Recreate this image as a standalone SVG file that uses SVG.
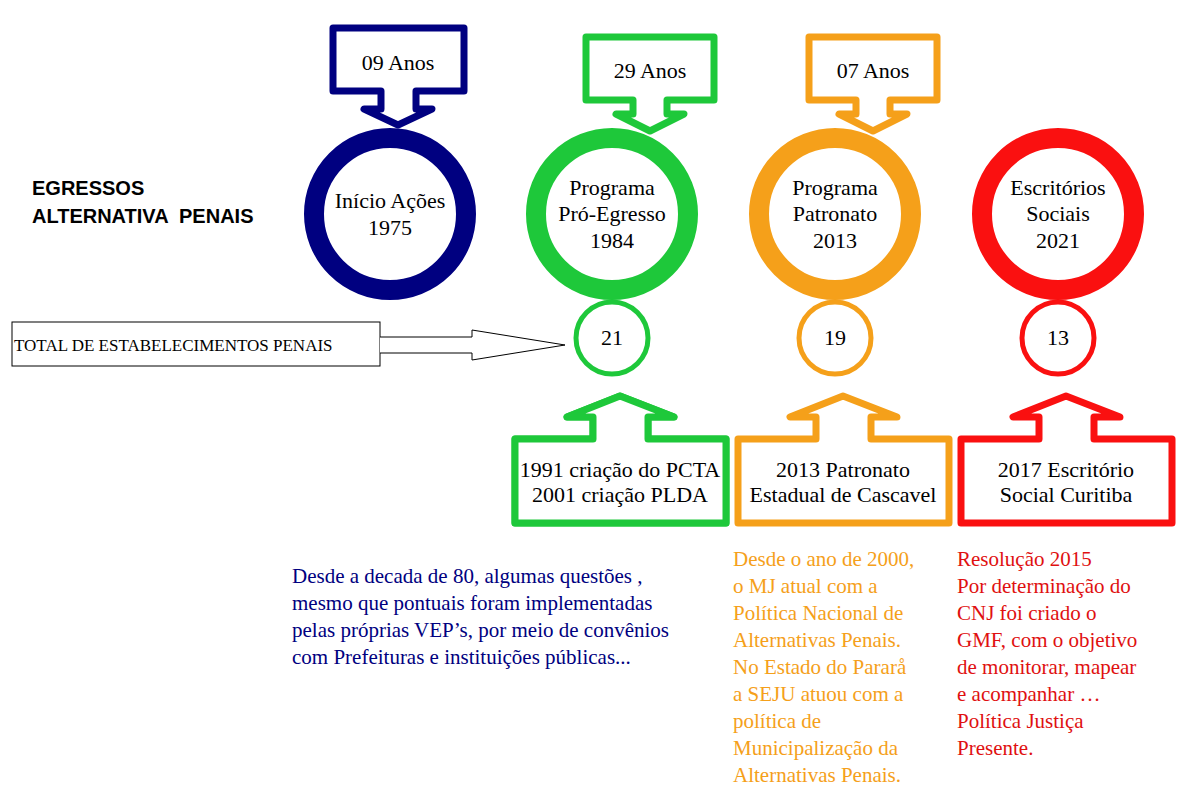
<svg xmlns="http://www.w3.org/2000/svg" width="1191" height="790" viewBox="0 0 1191 790">
<style>
.t{font-family:"Liberation Serif",serif;font-size:22px;text-anchor:middle;fill:#000}
.co{fill:#fff;stroke-width:7;stroke-linejoin:round}
.ring{fill:#fff;stroke-width:20}
.sm{fill:#fff;stroke-width:5}
.p{font-family:"Liberation Serif",serif;font-size:21px}
</style>
<rect width="1191" height="790" fill="#fff"/>
<g id="title"><text x="32" y="195" font-family="Liberation Sans,sans-serif" font-weight="bold" font-size="20">EGRESSOS</text><text x="32" y="223" font-family="Liberation Sans,sans-serif" font-weight="bold" font-size="20" xml:space="preserve">ALTERNATIVA  PENAIS</text></g>
<g id="n1975"><circle class="ring" cx="390" cy="214" r="76" stroke="#000080"/><text class="t" x="390" y="208">Início Ações</text><text class="t" x="390" y="235">1975</text></g>
<g id="n1984"><circle class="ring" cx="612" cy="214" r="76" stroke="#1ec83a"/><text class="t" x="612" y="195">Programa</text><text class="t" x="612" y="221">Pró-Egresso</text><text class="t" x="612" y="248">1984</text></g>
<g id="n2013"><circle class="ring" cx="835" cy="214" r="76" stroke="#f5a01a"/><text class="t" x="835" y="195">Programa</text><text class="t" x="835" y="221">Patronato</text><text class="t" x="835" y="248">2013</text></g>
<g id="n2021"><circle class="ring" cx="1058" cy="214" r="76" stroke="#fa1010"/><text class="t" x="1058" y="195">Escritórios</text><text class="t" x="1058" y="221">Sociais</text><text class="t" x="1058" y="248">2021</text></g>
<g id="a09"><path class="co" stroke="#000080" d="M333,28H464V91H416V109H432L398,125L364,109H381V91H333Z"/><text class="t" x="398" y="70">09 Anos</text></g>
<g id="a29"><path class="co" stroke="#1ec83a" d="M586,37H714V100H667V114H684L650,131L616,114H633V100H586Z"/><text class="t" x="650" y="78">29 Anos</text></g>
<g id="a07"><path class="co" stroke="#f5a01a" d="M809,37H937V100H890V114H907L873,131L839,114H856V100H809Z"/><text class="t" x="873" y="78">07 Anos</text></g>
<g id="c21"><circle class="sm" cx="612" cy="338" r="36" stroke="#1ec83a"/><text class="t" x="612" y="345">21</text></g>
<g id="c19"><circle class="sm" cx="835" cy="338" r="36" stroke="#f5a01a"/><text class="t" x="835" y="345">19</text></g>
<g id="c13"><circle class="sm" cx="1058" cy="338" r="36" stroke="#fa1010"/><text class="t" x="1058" y="345">13</text></g>
<g id="b1"><path class="co" stroke="#1ec83a" d="M515,439H726V523H515Z M515,439H593V417H567L620,396L674,417H648V439"/><path fill="#fff" stroke="#1ec83a" stroke-width="7" stroke-linejoin="round" d="M515,439V523H726V439H648V417H674L620,396L567,417H593V439Z"/><text class="t" x="620" y="477" font-size="20">1991 criação do PCTA</text><text class="t" x="620" y="502" font-size="20">2001 criação PLDA</text></g>
<g id="b2"><path class="co" stroke="#f5a01a" d="M738,439V523H949V439H871V417H897L843,396L790,417H816V439Z"/><text class="t" x="843" y="477" font-size="20">2013 Patronato</text><text class="t" x="843" y="502" font-size="20">Estadual de Cascavel</text></g>
<g id="b3"><path class="co" stroke="#fa1010" d="M961,439V523H1172V439H1094V417H1120L1066,396L1013,417H1039V439Z"/><text class="t" x="1066" y="477" font-size="20">2017 Escritório</text><text class="t" x="1066" y="502" font-size="20">Social Curitiba</text></g>
<g id="total"><rect x="12" y="322" width="368" height="44" fill="#fff" stroke="#000" stroke-width="1"/><text x="14" y="351" font-family="Liberation Serif,serif" font-size="17">TOTAL DE ESTABELECIMENTOS PENAIS</text></g>
<g id="connectors"><path d="M380,337H472V330L565,345L472,360V353H380" fill="#fff" stroke="#000" stroke-width="1"/></g>
<g id="texts" class="p">
<text fill="#000080" x="292" y="583">Desde a decada de 80, algumas questões ,</text>
<text fill="#000080" x="292" y="610">mesmo que pontuais foram implementadas</text>
<text fill="#000080" x="292" y="637">pelas próprias VEP’s, por meio de convênios</text>
<text fill="#000080" x="292" y="664">com Prefeituras e instituições públicas...</text>
<g fill="#f5a01a"><text x="733" y="566">Desde o ano de 2000,</text><text x="733" y="593">o MJ atual com a</text><text x="733" y="620">Política Nacional de</text><text x="733" y="647">Alternativas Penais.</text><text x="733" y="674">No Estado do Pararå</text><text x="733" y="701">a SEJU atuou com a</text><text x="733" y="728">política de</text><text x="733" y="755">Municipalização da</text><text x="733" y="782">Alternativas Penais.</text></g>
<g fill="#e01010"><text x="957" y="566">Resolução 2015</text><text x="957" y="593">Por determinação do</text><text x="957" y="620">CNJ foi criado o</text><text x="957" y="647">GMF, com o objetivo</text><text x="957" y="674">de monitorar, mapear</text><text x="957" y="701">e acompanhar …</text><text x="957" y="728">Política Justiça</text><text x="957" y="755">Presente.</text></g>
</g>
</svg>
